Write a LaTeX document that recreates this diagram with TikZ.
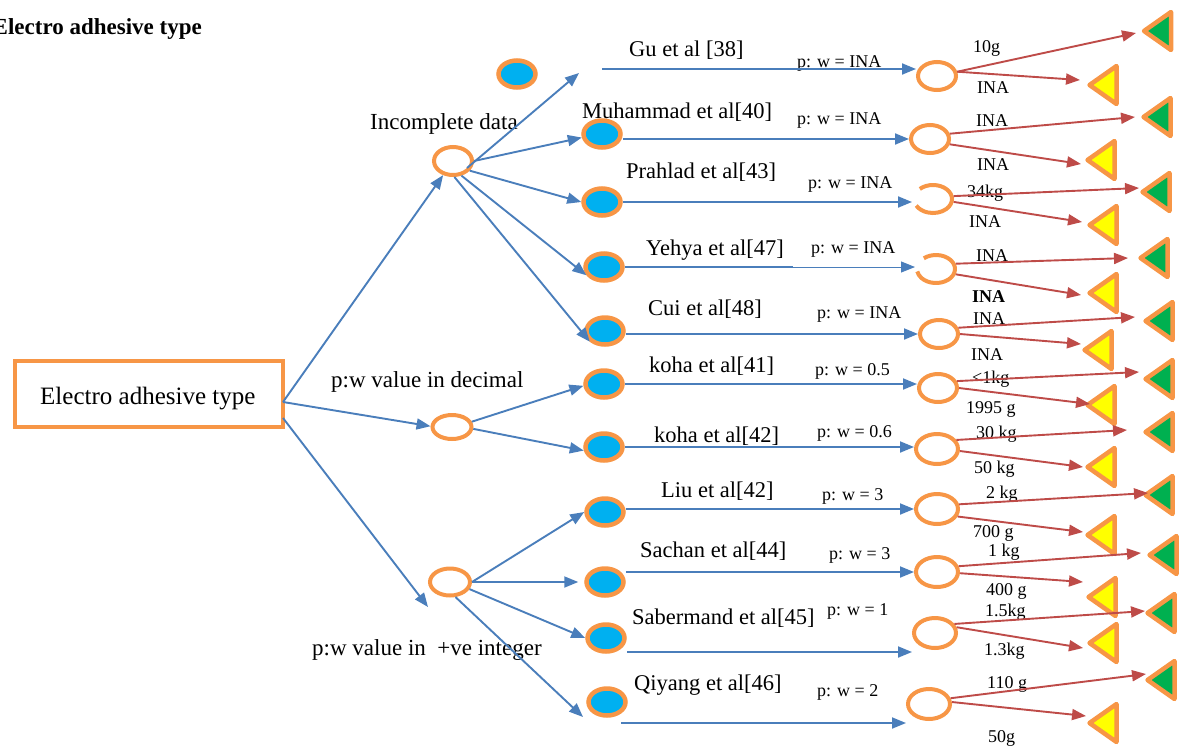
\documentclass[tikz,border=0pt]{standalone}
\usepackage{fontspec}
\setmainfont{Liberation Serif}
\usetikzlibrary{arrows.meta,shapes.geometric,calc}

\definecolor{eorange}{HTML}{F79646}
\definecolor{eblue}{HTML}{4A7EBB}
\definecolor{ered}{HTML}{BE4B48}
\definecolor{ecyan}{HTML}{00B0F0}
\definecolor{egreen}{HTML}{00B050}
\definecolor{eyellow}{HTML}{FFFF00}

\tikzset{
  frame/.style={rectangle, draw=eorange, line width=4pt, fill=white,
    minimum width=268pt, minimum height=66pt, inner sep=0pt},
  hub/.style={ellipse, draw=eorange, line width=4pt, fill=white,
    minimum width=38pt, minimum height=28pt, inner sep=0pt},
  bighub/.style={hub, minimum width=42pt, minimum height=30pt},
  gaphub/.style={hub, draw=none, fill=none},
  study/.style={ellipse, draw=eorange, line width=4.5pt, fill=ecyan,
    minimum width=37pt, minimum height=27pt, inner sep=0pt},
  tri/.style={draw=eorange, line width=4.5pt, line join=round},
  txt/.style={inner sep=0pt, anchor=base west},
  boxfont/.style={txt, font=\fontsize{25}{30}\selectfont},
  branch/.style={txt, font=\fontsize{23}{28}\selectfont},
  author/.style={txt, font=\fontsize{22.5}{27}\selectfont},
  ratio/.style={txt, font=\fontsize{18}{22}\selectfont},
  mass/.style={txt, font=\fontsize{18}{22}\selectfont},
  wire/.style={draw=eblue, line width=1.9pt, -{Triangle[length=14pt,width=11pt]}},
  plainwire/.style={draw=eblue, line width=1.9pt},
  redwire/.style={draw=ered, line width=1.9pt, -{Triangle[length=14pt,width=11pt]}},
}

\begin{document}
\begin{tikzpicture}[x=1pt,y=-1pt]
\useasboundingbox (0,0) rectangle (1186,745);

% ---------- root box and first level ----------
\node[frame] (box) at (149,394) {};
\node[hub] (inc) at (453,161) {};
\node[hub, minimum width=39pt, minimum height=24pt] (dec) at (452,427) {};
\node[hub, minimum width=40pt, minimum height=27pt] (int) at (450,582) {};

% ---------- study nodes ----------
\node[study] (lone) at (517,74) {};
\node[study] (muh) at (602,134) {};
\node[study] (pra) at (602,202) {};
\node[study] (yeh) at (604,267) {};
\node[study] (cui) at (605,331) {};
\node[study] (k41) at (604,384) {};
\node[study] (k42) at (604,447) {};
\node[study] (liu) at (605,512) {};
\node[study] (sac) at (605,582) {};
\node[study] (sab) at (606,638) {};
\node[study] (qiy) at (607,702) {};

% ---------- weight hubs ----------
\node[hub] (c1) at (937,76) {};
\node[hub] (c2) at (930,139) {};
\node[gaphub] (c3) at (933,199) {};
\node[gaphub] (c4) at (936,269) {};
\node[hub] (c5) at (939,334) {};
\node[hub] (c6) at (938,388) {};
\node[bighub] (c7) at (937,449) {};
\node[bighub] (c8) at (937,509) {};
\node[bighub] (c9) at (937,572) {};
\node[bighub] (c10) at (935,633) {};
\node[bighub] (c11) at (929,704) {};
\draw[eorange, line width=4pt] (c3.center) ++(-134:19 and 14)
  arc[start angle=-134, end angle=152, x radius=19, y radius=14];
\draw[eorange, line width=4pt] (c4.center) ++(-130:19 and 14)
  arc[start angle=-130, end angle=170, x radius=19, y radius=14];

% ---------- outcome markers ----------
\coordinate (gm1) at (1144,31);    \coordinate (ym1) at (1089.5,85);
\coordinate (gm2) at (1143.5,117); \coordinate (ym2) at (1087.5,160);
\coordinate (gm3) at (1142.5,192); \coordinate (ym3) at (1089.5,225);
\coordinate (gm4) at (1140.5,258); \coordinate (ym4) at (1089.5,293);
\coordinate (gm5) at (1145.5,321); \coordinate (ym5) at (1084.5,350);
\coordinate (gm6) at (1145.5,379); \coordinate (ym6) at (1087.5,405);
\coordinate (gm7) at (1145.5,432); \coordinate (ym7) at (1087.5,467);
\coordinate (gm8) at (1145.5,495); \coordinate (ym8) at (1087.5,535);
\coordinate (gm9) at (1149.5,555); \coordinate (ym9) at (1088.5,597);
\coordinate (gm10) at (1147.5,613); \coordinate (ym10) at (1089.5,643);
\coordinate (gm11) at (1147.5,680); \coordinate (ym11) at (1089.5,723);
\foreach \k in {1,...,11}{
  \draw[tri, fill=egreen] (gm\k) -- ++(27,-19) -- ++(0,38) -- cycle;
  \draw[tri, fill=eyellow] (ym\k) -- ++(27,-19) -- ++(0,38) -- cycle;
}

% ---------- texts ----------
\node[txt, anchor=base east, font=\fontsize{23}{28}\selectfont\bfseries] (title) at (202,34) {Electro adhesive type};
\node[boxfont] (boxtext) at (40,404) {Electro adhesive type};
\node[branch] (lincomplete) at (370,129) {Incomplete data};
\node[branch] (ldecimal) at (331,387) {p:w value in decimal};
\node[branch] (linteger) at (312,655) {p:w value in\ \ +ve integer};

\node[author] (n1) at (629,56) {Gu et al [38]};
\node[author] (n2) at (582,118) {Muhammad et al[40]};
\node[author] (n3) at (626,178) {Prahlad et al[43]};
\node[author] (n4) at (646,255) {Yehya et al[47]};
\node[author] (n5) at (648,315) {Cui et al[48]};
\node[author] (n6) at (649,372) {koha et al[41]};
\node[author] (n7) at (654,442) {koha et al[42]};
\node[author] (n8) at (661,497) {Liu et al[42]};
\node[author] (n9) at (640,557) {Sachan et al[44]};
\node[author] (n10) at (632,624) {Sabermand et al[45]};
\node[author] (n11) at (634,690) {Qiyang et al[46]};

\node[ratio] (r1) at (797,67) {p: w = INA};
\node[ratio] (r2) at (797,124) {p: w = INA};
\node[ratio] (r3) at (808,188) {p: w = INA};
\node[ratio] (r4) at (811,253) {p: w = INA};
\node[ratio] (r5) at (817,318) {p: w = INA};
\node[ratio] (r6) at (815,375) {p: w = 0.5};
\node[ratio] (r7) at (817,437) {p: w = 0.6};
\node[ratio] (r8) at (822,500) {p: w = 3};
\node[ratio] (r9) at (829,559) {p: w = 3};
\node[ratio] (r10) at (827,615) {p: w = 1};
\node[ratio] (r11) at (817,696) {p: w = 2};

\node[mass] (m1a) at (973,52) {10g};
\node[mass] (m1b) at (977,93) {INA};
\node[mass] (m2a) at (976,126) {INA};
\node[mass] (m2b) at (977,170) {INA};
\node[mass] (m3a) at (967,197) {34kg};
\node[mass] (m3b) at (969,227) {INA};
\node[mass] (m4a) at (976,261) {INA};
\node[mass, font=\fontsize{18}{22}\selectfont\bfseries] (m4b) at (972,302) {INA};
\node[mass] (m5a) at (973,324) {INA};
\node[mass] (m5b) at (971,360) {INA};
\node[mass] (m6a) at (972,383) {<1kg};
\node[mass] (m6b) at (966,413) {1995 g};
\node[mass] (m7a) at (976,438) {30 kg};
\node[mass] (m7b) at (974,473) {50 kg};
\node[mass] (m8a) at (986,498) {2 kg};
\node[mass] (m8b) at (973,537) {700 g};
\node[mass] (m9a) at (988,556) {1 kg};
\node[mass] (m9b) at (986,595) {400 g};
\node[mass] (m10a) at (985,616) {1.5kg};
\node[mass] (m10b) at (984,655) {1.3kg};
\node[mass] (m11a) at (987,688) {110 g};
\node[mass] (m11b) at (988,742) {50g};

% ---------- blue connectors ----------
\coordinate (hub1) at (283,402);
\coordinate (hub2) at (283,418);
\coordinate (intend) at (428,607);
\coordinate (gutip) at (579,73);
\coordinate (qiytip) at (583,717);
\coordinate (gustart) at (602,69);
\coordinate (yehmid) at (793,267);
\coordinate (sabline) at (627,652);
\coordinate (qiyline) at (621,723);

\draw[wire] (hub1) -- (inc.235);
\draw[wire] (hub1) -- (dec.178);
\draw[wire] (hub2) -- (intend);

\draw[wire] ($(inc.center)+(14,7)$) -- (gutip);
\draw[wire] (inc.east) -- (muh.190);
\draw[wire] (inc.-30) -- (pra.west);
\draw[wire] (inc.-60) -- (yeh.205);
\draw[wire] (inc.-85) -- (cui.215);

\draw[wire] (dec.15) -- (k41.185);
\draw[wire] (dec.-5) -- (k42.190);

\draw[wire] (int.east) -- (liu.west);
\draw[wire, shorten >=6pt] (int.east) -- (sac.west);
\draw[wire] (int.-20) -- (sab.west);
\draw[wire] (int.-70) -- (qiytip);

\draw[wire] (gustart) -- (gustart -| c1.west);
\draw[wire] (muh.east |- c2.west) -- (c2.west);
\draw[wire] (pra.east) -- (pra.east -| c3.west);
\draw[plainwire] (yeh.east) -- (yehmid);
\draw[wire, line width=1pt] (yehmid) -- (yehmid -| c4.west);
\draw[wire] (cui.east |- c5.west) -- (c5.west);
\draw[wire] (k41.east) -- (k41.east -| c6.west);
\draw[wire] (k42.east) -- (k42.east -| c7.west);
\draw[wire] (liu.east |- c8.west) -- (c8.west);
\draw[wire] (sac.east |- c9.west) -- (c9.west);
\draw[wire] (sabline) -- (sabline -| c10.west);
\draw[wire] (qiyline) -- (qiyline -| c11.west);

% ---------- red connectors ----------
\coordinate (ga1) at (1136,33);  \coordinate (ya1) at (1080,80);
\coordinate (ga2) at (1135,117); \coordinate (ya2) at (1081,164);
\coordinate (ga3) at (1139,188); \coordinate (ya3) at (1082,222);
\coordinate (ga4) at (1128,258); \coordinate (ya4) at (1081,295);
\coordinate (ga5) at (1135,317); \coordinate (ya5) at (1081,344);
\coordinate (ga6) at (1139,372); \coordinate (ya6) at (1090,404);
\coordinate (ga7) at (1127,430); \coordinate (ya7) at (1083,467);
\coordinate (ga8) at (1148,493); \coordinate (ya8) at (1083,532);
\coordinate (ga9) at (1141,553); \coordinate (ya9) at (1083,582);
\coordinate (ga10) at (1145,611); \coordinate (ya10) at (1083,648);
\coordinate (ga11) at (1146,674); \coordinate (ya11) at (1086,716);

\draw[redwire] (c1.12) -- (ga1);
\draw[redwire] (c1.12) -- (ya1);
\draw[redwire] (c2.15) -- (ga2);
\draw[redwire] (c2.-15) -- (ya2);
\draw[redwire] (c3.8) -- (ga3);
\draw[redwire] (c3.-8) -- (ya3);
\draw[redwire] (c4.15) -- (ga4);
\draw[redwire] (c4.-15) -- (ya4);
\draw[redwire] (c5.18) -- (ga5);
\draw[redwire] (c5.east) -- (ya5);
\draw[redwire] (c6.20) -- (ga6);
\draw[redwire] (c6.east) -- (ya6);
\draw[redwire] (c7.25) -- (ga7);
\draw[redwire] (c7.-5) -- (ya7);
\draw[redwire] (c8.12) -- (ga8);
\draw[redwire] (c8.-20) -- (ya8);
\draw[redwire] (c9.15) -- (ga9);
\draw[redwire] (c9.-3) -- (ya9);
\draw[redwire] (c10.25) -- (ga10);
\draw[redwire] (c10.15) -- (ya10);
\draw[redwire] (c11.15) -- (ga11);
\draw[redwire] (c11.5) -- (ya11);
\end{tikzpicture}
\end{document}
